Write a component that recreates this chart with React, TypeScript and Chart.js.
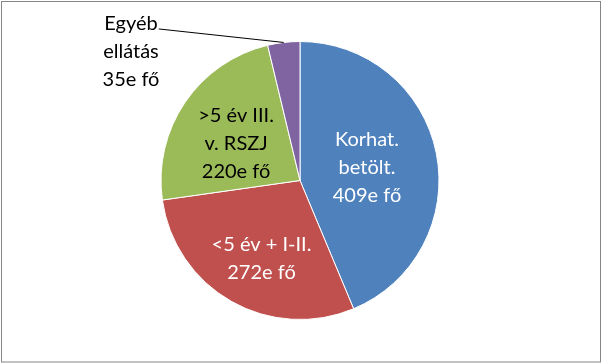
import React, { useEffect, useRef } from "react";
import { Chart, registerables } from "chart.js";

Chart.register(...registerables);

const categories = ["Korhat. betölt.", "<5 év + I-II.", ">5 év III. v. RSZJ", "Egyéb ellátás"];
const values = [409, 272, 220, 35];
const labelLines = [
  ["Korhat.", "betölt.", "409e fő"],
  ["<5 év + I-II.", "272e fő"],
  [">5 év III.", "v. RSZJ", "220e fő"],
  ["Egyéb", "ellátás", "35e fő"],
];
const colors = ["#4F81BD", "#C0504D", "#9BBB59", "#8064A2"];
const textColors = ["#FFFFFF", "#FFFFFF", "#000000", "#000000"];
// label centre offsets, in multiples of the outer radius from the pie centre
const labelOffsets = [
  [0.482, -0.097],
  [-0.277, 0.558],
  [-0.46, -0.273],
  [-1.216, -0.932],
];
const leader = [false, false, false, true];

const FONT_SIZE = 20;
const LINE_H = 28;

const labelPlugin = {
  id: "sliceLabels",
  afterDatasetsDraw(chart: any) {
    const ctx = chart.ctx as CanvasRenderingContext2D;
    const meta = chart.getDatasetMeta(0);
    ctx.save();
    ctx.font = `${FONT_SIZE}px Lato`;
    ctx.textAlign = "center";
    ctx.textBaseline = "alphabetic";
    meta.data.forEach((arc: any, i: number) => {
      const p = arc.getProps(["x", "y", "startAngle", "endAngle", "outerRadius"], true);
      const R = p.outerRadius;
      const cx = p.x + labelOffsets[i][0] * R;
      const cy = p.y + labelOffsets[i][1] * R;
      const lines = labelLines[i];
      const n = lines.length;
      ctx.fillStyle = textColors[i];
      lines.forEach((t, k) => {
        const ly = cy + (k - (n - 1) / 2) * LINE_H;
        ctx.fillText(t, cx, ly + FONT_SIZE * 0.36);
      });
      if (leader[i]) {
        const mid = (p.startAngle + p.endAngle) / 2;
        const ex = p.x + Math.cos(mid) * R;
        const ey = p.y + Math.sin(mid) * R;
        const w = ctx.measureText(lines[0]).width;
        const sx = cx + w / 2 + 1;
        const sy = cy - LINE_H + 6;
        ctx.strokeStyle = "#000000";
        ctx.lineWidth = 1;
        ctx.beginPath();
        ctx.moveTo(sx, sy);
        ctx.lineTo(ex, ey);
        ctx.stroke();
      }
    });
    ctx.restore();
  },
};

const framePlugin = {
  id: "frame",
  afterDraw(chart: any) {
    const ctx = chart.ctx as CanvasRenderingContext2D;
    ctx.save();
    ctx.strokeStyle = "#868686";
    ctx.lineWidth = 1;
    ctx.strokeRect(1.5, 1.5, chart.width - 3, chart.height - 2.5);
    ctx.restore();
  },
};

export default function App() {
  const ref = useRef<HTMLCanvasElement>(null);
  useEffect(() => {
    if (!ref.current) return;
    const chart = new Chart(ref.current, {
      type: "pie",
      data: {
        labels: categories,
        datasets: [
          {
            data: values,
            backgroundColor: colors,
            borderColor: "#FFFFFF",
            borderWidth: 1,
          },
        ],
      },
      options: {
        responsive: false,
        animation: false,
        devicePixelRatio: 1,
        radius: 139,
        layout: { padding: { top: 41, bottom: 43, left: 0, right: 2 } },
        plugins: {
          legend: { display: false },
          tooltip: { enabled: false },
        },
      },
      plugins: [labelPlugin, framePlugin],
    });
    return () => chart.destroy();
  }, []);
  return (
    <div style={{ position: "absolute", left: 0, top: 0, width: 602, height: 363, background: "#fff" }}>
      <canvas ref={ref} width={602} height={363} />
    </div>
  );
}
